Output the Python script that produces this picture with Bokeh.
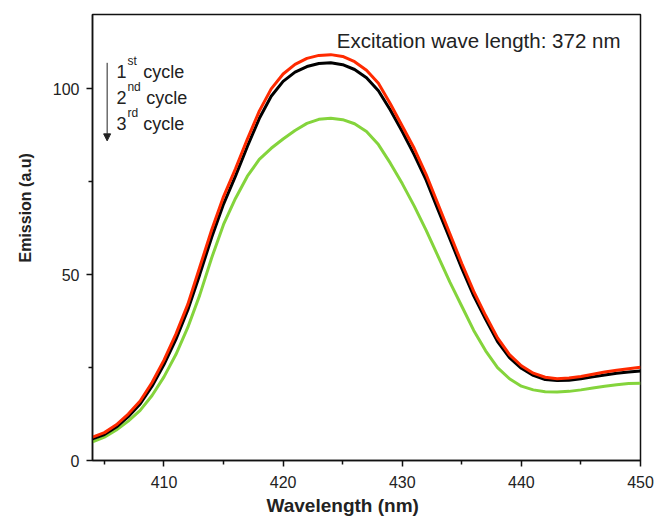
from bokeh.plotting import figure
from bokeh.models import Range1d, FixedTicker, Label, Arrow, NormalHead, Title
from bokeh.embed import file_html
from bokeh.resources import INLINE

wavelength = list(range(404, 451))
cycle1 = [6.3, 7.5, 9.6, 12.5, 16.0, 21.0, 27.0, 34.0, 42.0, 52.0, 62.0, 71.0, 78.5, 86.5,
          94.0, 100.0, 104.0, 106.6, 108.2, 109.0, 109.2, 108.7, 107.3, 105.0, 101.5, 96.0,
          90.0, 84.0, 77.0, 69.0, 61.0, 53.0, 45.5, 39.0, 33.0, 28.5, 25.5, 23.5, 22.4, 22.0,
          22.2, 22.6, 23.2, 23.8, 24.3, 24.7, 25.1]
cycle2 = [5.8, 7.0, 9.0, 11.8, 15.2, 20.0, 25.8, 32.6, 40.5, 50.0, 60.0, 69.0, 76.5, 84.5,
          92.0, 98.0, 102.0, 104.5, 106.0, 106.8, 107.0, 106.5, 105.2, 103.0, 99.5, 94.3,
          88.5, 82.3, 75.5, 67.5, 59.6, 51.7, 44.3, 38.0, 32.0, 27.7, 24.8, 22.9, 21.8, 21.5,
          21.6, 22.0, 22.5, 23.0, 23.5, 23.8, 24.1]
cycle3 = [5.0, 6.3, 8.2, 10.6, 13.5, 17.5, 22.5, 28.5, 35.8, 44.5, 54.5, 63.5, 70.5, 76.5,
          81.0, 84.0, 86.5, 88.8, 90.7, 91.8, 92.1, 91.7, 90.6, 88.5, 85.0, 80.0, 74.5,
          68.5, 62.0, 55.0, 48.0, 41.5, 35.0, 29.5, 25.0, 22.0, 20.0, 19.0, 18.5, 18.4,
          18.6, 19.0, 19.5, 20.0, 20.4, 20.7, 20.8]
x_ticks = [410, 420, 430, 440, 450]
x_minor = [405, 415, 425, 435, 445]
y_ticks = [0, 50, 100]
y_minor = [25, 75]
legend_digits = ["1", "2", "3"]
legend_sups = ["st", "nd", "rd"]

FONT = "Liberation Sans"
TXT = "#222222"

p = figure(width=655, height=519, output_backend="svg", toolbar_location=None,
           x_range=Range1d(404, 450), y_range=Range1d(0, 120),
           min_border_left=91, min_border_right=15, min_border_top=14, min_border_bottom=59)
p.grid.visible = False
p.outline_line_color = "#111111"
p.outline_line_width = 1.5
p.background_fill_color = "white"
p.border_fill_color = "white"

for ax in (p.xaxis[0], p.yaxis[0]):
    ax.axis_line_color = "#111111"
    ax.axis_line_width = 1.5
    ax.major_tick_line_color = "#111111"
    ax.major_tick_line_width = 1.5
    ax.minor_tick_line_color = "#111111"
    ax.minor_tick_line_width = 1.5
    ax.major_tick_in = 0
    ax.major_tick_out = 6
    ax.minor_tick_in = 0
    ax.minor_tick_out = 4
    ax.major_label_text_font = FONT
    ax.major_label_text_font_size = "16px"
    ax.major_label_text_color = TXT

p.xaxis.ticker = FixedTicker(ticks=x_ticks, minor_ticks=x_minor)
p.yaxis.ticker = FixedTicker(ticks=y_ticks, minor_ticks=y_minor)
p.xaxis.major_label_standoff = 9
p.yaxis.major_label_standoff = 7

p.line(wavelength, cycle3, line_color="#84d43c", line_width=3)
p.line(wavelength, cycle2, line_color="#000000", line_width=3)
p.line(wavelength, cycle1, line_color="#ff2a00", line_width=3)

# axis titles
p.add_layout(Title(text="Wavelength (nm)", align="left", offset=174, text_font=FONT,
                   text_font_size="19px", text_font_style="bold", text_color=TXT,
                   standoff=4), "below")
p.add_layout(Title(text="Emission (a.u)", align="left", offset=198, text_font=FONT,
                   text_font_size="16px", text_font_style="bold", text_color=TXT,
                   vertical_align="middle", standoff=30), "left")

# excitation annotation
p.add_layout(Label(x=424.5, y=113.0, text="Excitation wave length: 372 nm", text_font=FONT,
                   text_font_size="20.5px", text_color=TXT, text_align="left",
                   text_baseline="alphabetic"))

# legend text with superscripts
base_y = [104.6, 97.6, 90.6]
sup_x = [406.93, 406.93, 406.93]
cycle_x = [408.27, 408.52, 408.27]
for d, s, by, sx, cx in zip(legend_digits, legend_sups, base_y, sup_x, cycle_x):
    p.add_layout(Label(x=406.01, y=by, text=d, text_font=FONT, text_font_size="18px",
                       text_color=TXT, text_baseline="alphabetic"))
    p.add_layout(Label(x=sx, y=by + 2.8, text=s, text_font=FONT, text_font_size="12px",
                       text_color=TXT, text_baseline="alphabetic"))
    p.add_layout(Label(x=cx, y=by, text="cycle", text_font=FONT, text_font_size="18px",
                       text_color=TXT, text_baseline="alphabetic"))

p.add_layout(Arrow(end=NormalHead(size=7, fill_color="#222222", line_color="#222222"),
                   x_start=405.23, y_start=107.0, x_end=405.23, y_end=86.0,
                   line_color="#222222", line_width=1))

open("out.html", "w").write(file_html(p, INLINE))
